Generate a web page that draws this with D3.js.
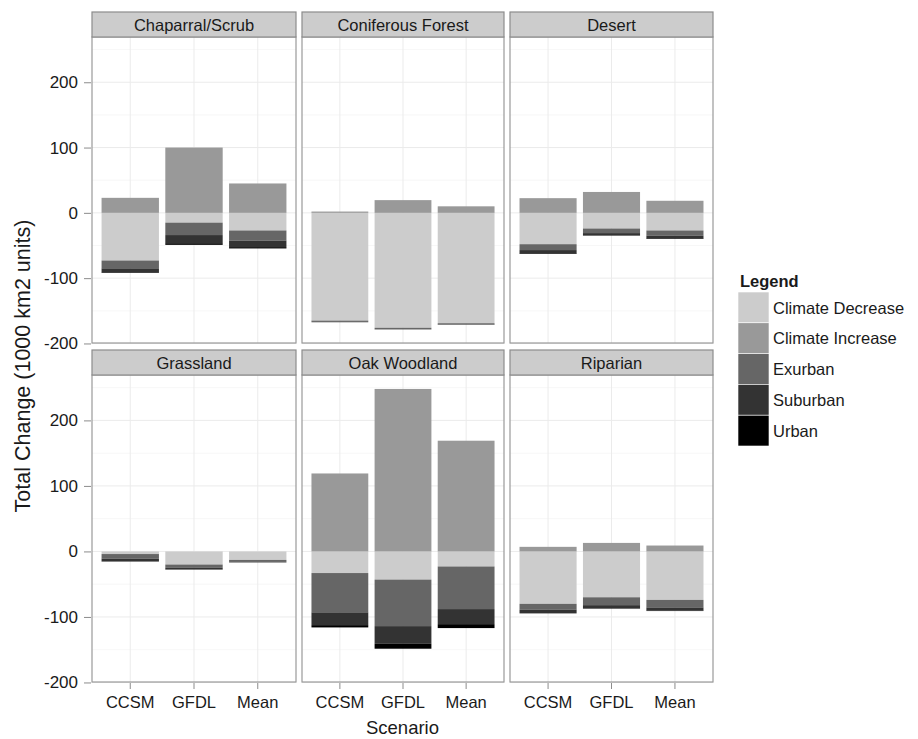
<!DOCTYPE html>
<html>
<head>
<meta charset="utf-8">
<script src="https://cdn.jsdelivr.net/npm/d3@7"></script>
<style>
  body { margin: 0; background: #fff; }
  svg text { font-family: "Liberation Sans", Arial, sans-serif; }
</style>
</head>
<body>
<div id="chart"></div>
<script>
// 데이터
const biomes = ['Chaparral/Scrub', 'Coniferous Forest', 'Desert', 'Grassland', 'Oak Woodland', 'Riparian'];
const scenarios = ['CCSM', 'GFDL', 'Mean'];
const seriesNames = ['Climate Decrease', 'Climate Increase', 'Exurban', 'Suburban', 'Urban'];
const seriesColors = ['#cccccc', '#999999', '#666666', '#333333', '#000000'];
const yTicks = [-200, -100, 0, 100, 200];
const yMinorTicks = [-150, -50, 50, 150, 250];

// 각 바이옴별 [CCSM, GFDL, Mean]
const climateDecrease = [[-73, -15, -27], [-165, -176, -169], [-48, -24, -27], [-4, -20, -13], [-33, -43, -23], [-80, -70, -74]];
const climateIncrease = [[23, 100, 45], [2, 19.5, 10], [22.5, 32, 18.5], [0, 0, 0], [119, 248, 169], [7, 13, 9]];
const exurban = [[-12, -19, -15.5], [-2, -2, -2], [-9, -7, -8], [-7, -5, -3], [-60, -71, -65], [-9, -12, -11.5]];
const suburban = [[-6, -12.5, -10], [-0.5, -0.5, -0.5], [-5, -3.5, -4], [-4, -2.5, -0.8], [-19.5, -27, -23], [-5, -5, -5]];
const urban = [[-1, -2.5, -2], [0, 0, 0], [-1, -0.5, -1], [-0.5, -0.3, 0], [-3.5, -7.5, -6], [-0.5, -0.5, -0.5]];

const W = 918, H = 739;
const svg = d3.select('#chart').append('svg')
    .attr('width', W)
    .attr('height', H);

// 패널 배치
const colX = [[92, 296], [302, 504], [510, 713]];
const rowY = [{ strip: 12, top: 37, bottom: 343 }, { strip: 350, top: 375, bottom: 682 }];

const yDomain = [-199.3, 269.3];
const textColor = '#1a1a1a';

biomes.forEach((biome, bi) => {
    const col = bi % 3, row = Math.floor(bi / 3);
    const [x0, x1] = colX[col];
    const ry = rowY[row];

    const x = d3.scaleBand().domain(scenarios).range([x0, x1])
        .paddingInner(0.1).paddingOuter(0.15);
    const y = d3.scaleLinear().domain(yDomain).range([ry.bottom, ry.top]);

    const g = svg.append('g');

    // 배경 그리드
    g.selectAll('.minor').data(yMinorTicks.filter(t => t < yDomain[1])).join('line')
        .attr('x1', x0).attr('x2', x1)
        .attr('y1', d => y(d)).attr('y2', d => y(d))
        .attr('stroke', '#f5f5f5').attr('stroke-width', 0.8);
    g.selectAll('.major').data(yTicks).join('line')
        .attr('x1', x0).attr('x2', x1)
        .attr('y1', d => y(d)).attr('y2', d => y(d))
        .attr('stroke', '#ebebeb').attr('stroke-width', 1);
    g.selectAll('.vgrid').data(scenarios).join('line')
        .attr('x1', d => x(d) + x.bandwidth() / 2).attr('x2', d => x(d) + x.bandwidth() / 2)
        .attr('y1', ry.top).attr('y2', ry.bottom)
        .attr('stroke', '#ebebeb').attr('stroke-width', 1);

    // 스택 데이터
    const rowsData = scenarios.map((s, si) => ({
        scenario: s,
        'Climate Decrease': climateDecrease[bi][si],
        'Climate Increase': climateIncrease[bi][si],
        'Exurban': exurban[bi][si],
        'Suburban': suburban[bi][si],
        'Urban': urban[bi][si]
    }));
    const stacked = d3.stack().keys(seriesNames).offset(d3.stackOffsetDiverging)(rowsData);

    stacked.forEach((layer, li) => {
        g.selectAll(null).data(layer).join('rect')
            .attr('x', d => x(d.data.scenario))
            .attr('width', x.bandwidth())
            .attr('y', d => y(Math.max(d[0], d[1])))
            .attr('height', d => Math.abs(y(d[0]) - y(d[1])))
            .attr('fill', seriesColors[li]);
    });

    // 패널 테두리
    g.append('rect')
        .attr('x', x0).attr('y', ry.top)
        .attr('width', x1 - x0).attr('height', ry.bottom - ry.top)
        .attr('fill', 'none').attr('stroke', '#9a9a9a').attr('stroke-width', 1.2);

    // 스트립
    g.append('rect')
        .attr('x', x0).attr('y', ry.strip)
        .attr('width', x1 - x0).attr('height', ry.top - ry.strip)
        .attr('fill', '#cccccc').attr('stroke', '#8c8c8c').attr('stroke-width', 1.2);
    g.append('text')
        .attr('x', (x0 + x1) / 2).attr('y', (ry.strip + ry.top) / 2 + 6)
        .attr('text-anchor', 'middle')
        .attr('font-size', '16.5px').attr('fill', textColor)
        .text(biome);

    // Y 축
    if (col === 0) {
        const yAxis = d3.axisLeft(y).tickValues(yTicks).tickFormat(d => String(d))
            .tickSize(7).tickPadding(6);
        const ya = svg.append('g').attr('transform', `translate(${x0 - 1},0)`).call(yAxis);
        ya.select('.domain').remove();
        ya.selectAll('line').attr('stroke', '#8c8c8c');
        ya.selectAll('text').attr('font-size', '17px').attr('fill', textColor)
            .style('font-family', '"Liberation Sans", Arial, sans-serif');
    }

    // X 축
    if (row === 1) {
        const xAxis = d3.axisBottom(x).tickSize(6).tickPadding(7);
        const xa = svg.append('g').attr('transform', `translate(0,${ry.bottom + 1})`).call(xAxis);
        xa.select('.domain').remove();
        xa.selectAll('line').attr('stroke', '#8c8c8c');
        xa.selectAll('text').attr('font-size', '16.5px').attr('fill', textColor)
            .style('font-family', '"Liberation Sans", Arial, sans-serif');
    }
});

// 축 제목
svg.append('text')
    .attr('transform', 'translate(30,366) rotate(-90)')
    .attr('text-anchor', 'middle')
    .attr('font-size', '21.5px').attr('fill', textColor)
    .text('Total Change (1000 km2 units)');

svg.append('text')
    .attr('x', (colX[0][0] + colX[2][1]) / 2).attr('y', 734)
    .attr('text-anchor', 'middle')
    .attr('font-size', '18.5px').attr('fill', textColor)
    .text('Scenario');

// 범례
const legend = svg.append('g').attr('transform', 'translate(738,292)');
legend.append('text')
    .attr('x', 2).attr('y', -5.5)
    .attr('font-size', '16.5px').attr('font-weight', 'bold').attr('fill', textColor)
    .text('Legend');
seriesNames.forEach((name, i) => {
    legend.append('rect')
        .attr('x', 0).attr('y', i * 30.8)
        .attr('width', 31).attr('height', 30.8)
        .attr('fill', seriesColors[i])
        .attr('stroke', '#fff').attr('stroke-width', 0.6);
    legend.append('text')
        .attr('x', 35).attr('y', i * 30.8 + 21.5)
        .attr('font-size', '16.5px').attr('fill', textColor)
        .text(name);
});
</script>
</body>
</html>
